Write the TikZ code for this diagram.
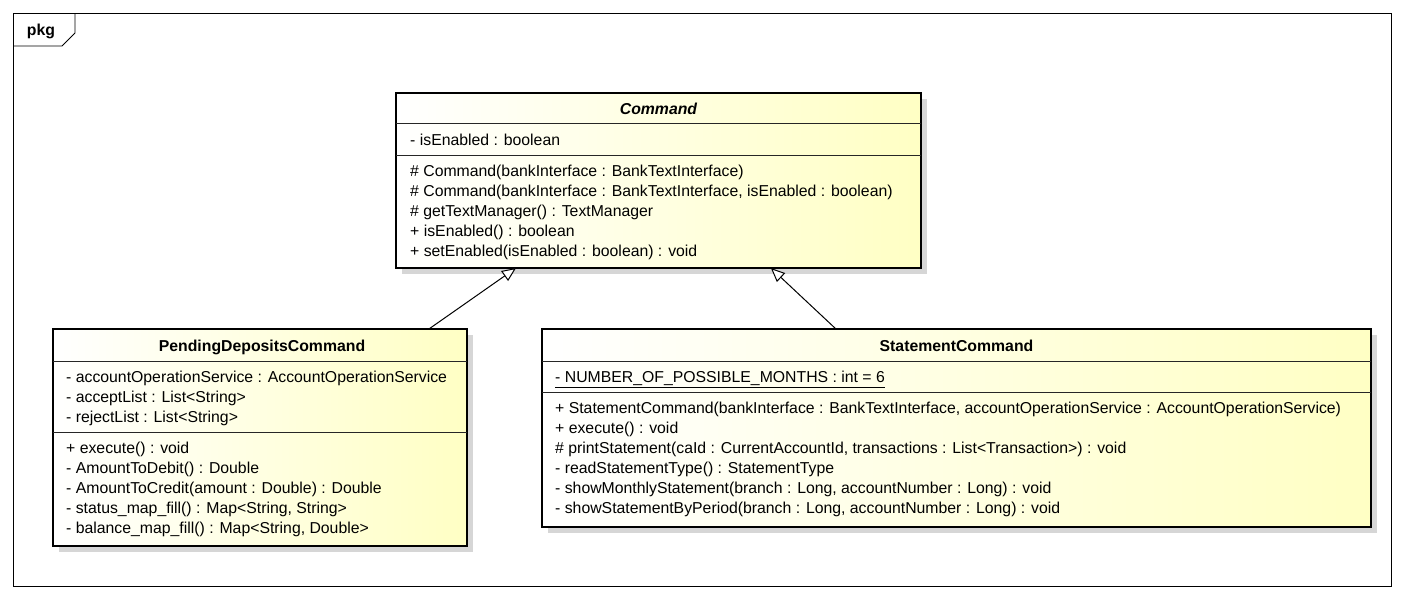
\documentclass[tikz,border=0pt]{standalone}
\usepackage{fontspec}
\setmainfont{Liberation Sans}
\usetikzlibrary{arrows.meta,calc}
\definecolor{umlyellow}{RGB}{255,255,196}
\begin{document}
\begin{tikzpicture}[x=1pt,y=-1pt,
  box/.style={draw=black,line width=2.4pt,left color=white,right color=umlyellow,anchor=north west,inner sep=0pt,outer sep=0pt},
  shadowbox/.style={fill=black!16,draw=none},
  sepline/.style={line width=0.9pt,draw=black!85},
  member/.style={anchor=base west,inner sep=0pt,yshift=-5.5pt,font=\fontsize{15.8}{18}\selectfont},
  title/.style={anchor=base,inner sep=0pt,yshift=-5.5pt,font=\bfseries\fontsize{15.8}{18}\selectfont},
  gen/.style={draw=black,line width=1pt,-{Triangle[open,length=14pt,width=12pt,fill=white]}},
]
\useasboundingbox (0,0) rectangle (1404,600);
\fill[white] (0,0) rectangle (1404,600);
% package frame
\draw[line width=0.8pt] (13,13) rectangle (1391,586);
\draw[line width=0.8pt] (13,46) -- (62,46) -- (75,33) -- (75,13);
\node[title] (pkg) at (41,30) {pkg};

% shadows
\fill[shadowbox] (402,99) rectangle (927,274);
\fill[shadowbox] (59,335) rectangle (473,552);
\fill[shadowbox] (548,335) rectangle (1377,533);

% Command
\node[box,minimum width=525pt,minimum height=175pt] (cmd) at (396,93) {};
\draw[sepline] (396,123) -- (921,123);
\draw[sepline] (396,155) -- (921,155);
\node[title] (cmdt) at (658.5,109) {\itshape Command};
\node[member] (c1) at (410,140) {- isEnabled : boolean};
\node[member] (c2) at (410,171) {\# Command(bankInterface : BankTextInterface)};
\node[member] (c3) at (410,191) {\# Command(bankInterface : BankTextInterface, isEnabled : boolean)};
\node[member] (c4) at (410,211) {\# getTextManager() : TextManager};
\node[member] (c5) at (410,231) {+ isEnabled() : boolean};
\node[member] (c6) at (410,251) {+ setEnabled(isEnabled : boolean) : void};

% PendingDepositsCommand
\node[box,minimum width=414pt,minimum height=217pt] (pdc) at (53,329) {};
\draw[sepline] (53,361) -- (467,361);
\draw[sepline] (53,432) -- (467,432);
\node[title] (pdct) at (262,346) {PendingDepositsCommand};
\node[member] (p1) at (66,377) {- accountOperationService : AccountOperationService};
\node[member] (p2) at (66,397) {- acceptList : List<String>};
\node[member] (p3) at (66,417) {- rejectList : List<String>};
\node[member] (p4) at (66,448) {+ execute() : void};
\node[member] (p5) at (66,468) {- AmountToDebit() : Double};
\node[member] (p6) at (66,488) {- AmountToCredit(amount : Double) : Double};
\node[member] (p7) at (66,508) {- status\_map\_fill() : Map<String, String>};
\node[member] (p8) at (66,528) {- balance\_map\_fill() : Map<String, Double>};

% StatementCommand
\node[box,minimum width=829pt,minimum height=198pt] (stc) at (542,329) {};
\draw[sepline] (542,361) -- (1371,361);
\draw[sepline] (542,392) -- (1371,392);
\node[title] (stct) at (956.5,346) {StatementCommand};
\node[member] (s1) at (555,377) {\underline{- NUMBER\_OF\_POSSIBLE\_MONTHS : int = 6}};
\node[member] (s2) at (555,408) {+ StatementCommand(bankInterface : BankTextInterface, accountOperationService : AccountOperationService)};
\node[member] (s3) at (555,428) {+ execute() : void};
\node[member] (s4) at (555,448) {\# printStatement(caId : CurrentAccountId, transactions : List<Transaction>) : void};
\node[member] (s5) at (555,468) {- readStatementType() : StatementType};
\node[member] (s6) at (555,488) {- showMonthlyStatement(branch : Long, accountNumber : Long) : void};
\node[member] (s7) at (555,508) {- showStatementByPeriod(branch : Long, accountNumber : Long) : void};

% generalizations
\draw[gen] ($(pdc.north west)!0.908!(pdc.north east)$) -- ($(cmd.south west)!0.2286!(cmd.south east)$);
\draw[gen] ($(stc.north west)!0.3546!(stc.north east)$) -- ($(cmd.south west)!0.714!(cmd.south east)$);
\end{tikzpicture}
\end{document}
